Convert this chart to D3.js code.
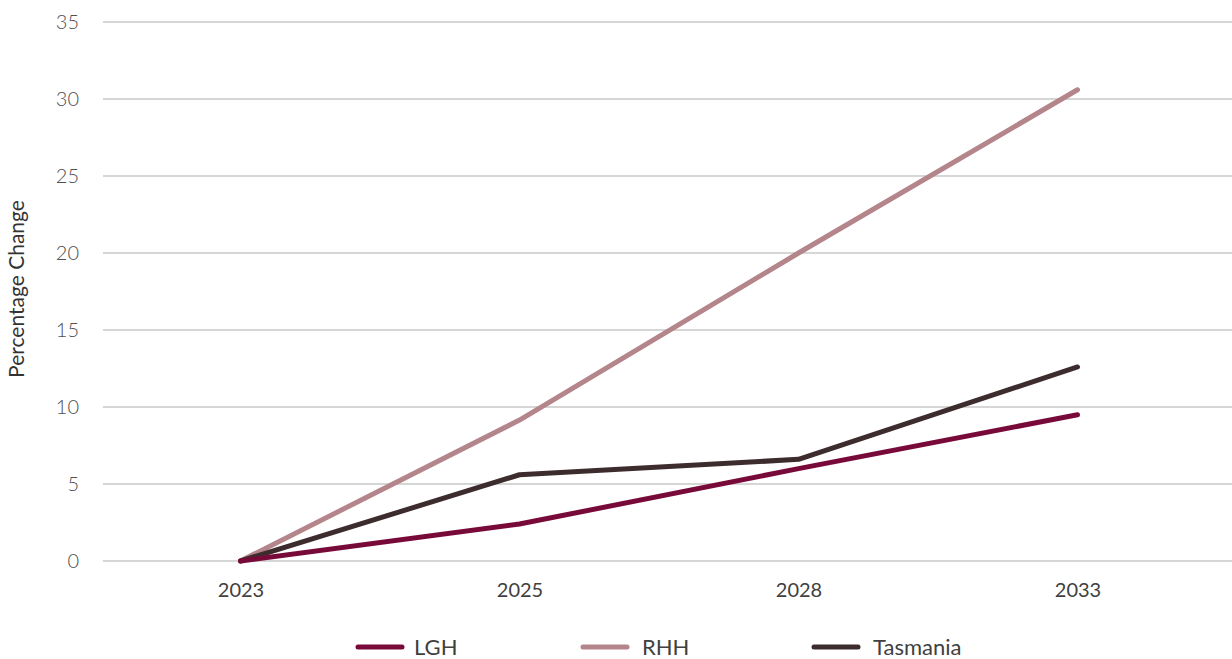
<!DOCTYPE html>
<html>
<head>
<meta charset="utf-8">
<script src="https://cdn.jsdelivr.net/npm/d3@7"></script>
<style>
  html, body { margin: 0; padding: 0; background: #fff; }
  svg { display: block; font-family: Lato, "Open Sans", sans-serif; }
</style>
</head>
<body>
<svg id="chart" width="1232" height="659"></svg>
<script>
// Projected percentage change relative to 2023
const years = ["2023", "2025", "2028", "2033"];
const lghValues = [0, 2.4, 6.0, 9.5];
const rhhValues = [0, 9.15, 20.0, 30.6];
const tasmaniaValues = [0, 5.6, 6.6, 12.6];
const yTicks = [0, 5, 10, 15, 20, 25, 30, 35];
const seriesNames = ["LGH", "RHH", "Tasmania"];
const seriesColors = ["#780a3a", "#b4858a", "#3d2c2d"];

const series = [
  { name: seriesNames[0], values: lghValues, color: seriesColors[0] },
  { name: seriesNames[1], values: rhhValues, color: seriesColors[1] },
  { name: seriesNames[2], values: tasmaniaValues, color: seriesColors[2] }
];

const svg = d3.select("#chart");
const plot = { left: 103, right: 1232, top: 22, bottom: 561 };

const x = d3.scalePoint().domain(years).range([101, 1217]).padding(0.5);
const y = d3.scaleLinear().domain([0, 35]).range([plot.bottom, plot.top]);

// Horizontal gridlines
svg.append("g")
  .selectAll("line")
  .data(yTicks)
  .join("line")
  .attr("x1", plot.left).attr("x2", plot.right)
  .attr("y1", d => y(d)).attr("y2", d => y(d))
  .attr("stroke", "#c8c8c8").attr("stroke-width", 1.5);

// Y axis labels
const yAxis = d3.axisLeft(y).tickValues(yTicks).tickSize(0).tickPadding(0);
svg.append("g")
  .attr("transform", `translate(79,0)`)
  .call(yAxis)
  .call(g => g.select(".domain").remove())
  .call(g => g.selectAll("text")
    .attr("font-size", 20).attr("font-weight", 300)
    .attr("fill", "#505050").attr("font-family", "Lato, sans-serif"));

// X axis labels
const xAxis = d3.axisBottom(x).tickSize(0).tickPadding(0);
svg.append("g")
  .attr("transform", `translate(0,583)`)
  .call(xAxis)
  .call(g => g.select(".domain").remove())
  .call(g => g.selectAll("text")
    .attr("font-size", 20).attr("fill", "#404040")
    .attr("font-family", "Lato, sans-serif"));

// Axis title
svg.append("text")
  .attr("transform", "translate(24,289) rotate(-90)")
  .attr("text-anchor", "middle")
  .attr("font-size", 21)
  .attr("fill", "#333")
  .text("Percentage Change");

// Series lines
const line = d3.line()
  .x((d, i) => x(years[i]))
  .y(d => y(d));

svg.append("g")
  .selectAll("path")
  .data([series[1], series[2], series[0]])
  .join("path")
  .attr("d", d => line(d.values))
  .attr("fill", "none")
  .attr("stroke", d => d.color)
  .attr("stroke-width", 5)
  .attr("stroke-linecap", "round")
  .attr("stroke-linejoin", "round");

// Legend
const legendX = [358, 583, 814];
const legend = svg.append("g")
  .selectAll("g")
  .data(series)
  .join("g")
  .attr("transform", (d, i) => `translate(${legendX[i]},647)`);

legend.append("line")
  .attr("x1", 0).attr("x2", 44)
  .attr("stroke", d => d.color)
  .attr("stroke-width", 5)
  .attr("stroke-linecap", "round");

legend.append("text")
  .attr("x", (d, i) => i === 1 ? 59 : (i === 2 ? 59 : 56))
  .attr("dy", "0.35em")
  .attr("font-size", 22)
  .attr("fill", "#404040")
  .text(d => d.name);
</script>
</body>
</html>
